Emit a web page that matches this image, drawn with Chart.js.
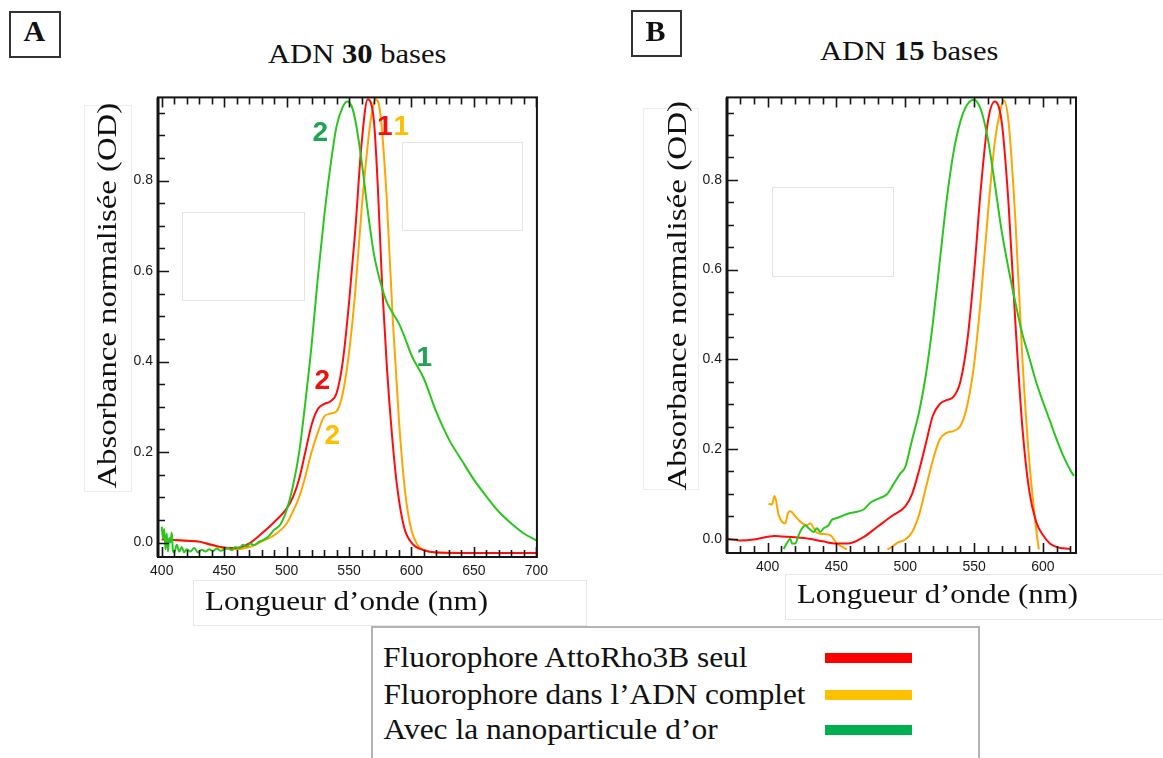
<!DOCTYPE html>
<html>
<head>
<meta charset="utf-8">
<script src="https://cdn.jsdelivr.net/npm/chart.js@4.4.1/dist/chart.umd.min.js"></script>
<style>
  html, body { margin: 0; padding: 0; background: #fff; }
  body { position: relative; width: 1163px; height: 758px; overflow: hidden; }
  canvas { position: absolute; }
  .txt { position: absolute; white-space: nowrap; transform-origin: 50% 50%; }
  .box { position: absolute; box-sizing: border-box; }
</style>
</head>
<body>
<canvas id="chart-a" width="454" height="503" style="left:100px;top:84px;width:454px;height:503px"></canvas>
<canvas id="chart-b" width="417" height="499" style="left:669px;top:84px;width:417px;height:499px"></canvas>

<script>
// Panel A — ADN 30 bases
const aRedX = [400, 420, 430, 440, 450, 460, 470, 480, 490, 500, 505, 510, 515, 520, 525, 530, 535, 540, 545, 550, 555, 560, 565, 570, 573, 576.5, 580.5, 584.5, 588.5, 594, 600.5, 610, 620, 650, 700];
const aRedY = [0.007, 0.004, 0.002, -0.005, -0.011, -0.012, -0.002, 0.02, 0.045, 0.075, 0.1, 0.14, 0.2, 0.26, 0.295, 0.306, 0.312, 0.33, 0.4, 0.53, 0.69, 0.88, 0.98, 0.93, 0.79, 0.57, 0.38, 0.235, 0.124, 0.035, -0.002, -0.017, -0.022, -0.023, -0.023];

const aOrangeX = [400, 420, 430, 440, 450, 460, 470, 480, 490, 500, 505, 510, 515, 520, 525, 530, 535, 540, 545, 550, 555, 560, 565, 568, 571.3, 575, 580, 585, 590, 595, 600, 605, 610, 620, 650, 700];
const aOrangeY = [0.007, 0.004, 0.002, -0.006, -0.013, -0.015, -0.01, 0.002, 0.016, 0.042, 0.068, 0.1, 0.146, 0.2, 0.243, 0.278, 0.285, 0.29, 0.33, 0.42, 0.555, 0.733, 0.88, 0.945, 0.98, 0.95, 0.77, 0.495, 0.27, 0.11, 0.027, -0.006, -0.017, -0.022, -0.023, -0.023];

const aGreenX = [400, 401, 402, 403, 404, 405, 406, 407, 408, 409, 410, 412, 414, 416, 418, 420, 423, 426, 429, 432, 435, 438, 441, 444, 447, 450, 453, 456, 459, 462, 465, 468, 471, 474, 477, 480, 485, 490, 495, 500, 505, 510, 515, 520, 525, 530, 535, 540, 545, 548.5, 552, 555, 560, 565, 570, 575, 580, 585, 590, 595, 600, 610, 620, 630, 640, 650, 660, 670, 680, 690, 700];
const aGreenY = [0.035, 0.01, 0.03, -0.015, 0.02, -0.02, 0.01, 0.0, 0.022, -0.018, -0.022, -0.005, -0.02, -0.01, -0.022, -0.015, -0.02, -0.012, -0.022, -0.016, -0.02, -0.015, -0.019, -0.013, -0.018, -0.016, -0.012, -0.017, -0.01, -0.013, -0.005, -0.009, -0.002, -0.006, 0.0, 0.004, 0.012, 0.028, 0.04, 0.072, 0.124, 0.198, 0.31, 0.436, 0.585, 0.718, 0.83, 0.92, 0.963, 0.975, 0.965, 0.934, 0.845, 0.733, 0.637, 0.577, 0.533, 0.507, 0.484, 0.451, 0.414, 0.362, 0.288, 0.228, 0.183, 0.139, 0.102, 0.068, 0.042, 0.02, 0.005];

// Panel B — ADN 15 bases
const bRedX = [370.5, 380, 390, 400, 405, 410, 420, 430, 440, 450, 460, 470, 480, 490, 500, 505, 510, 515, 520, 525, 530, 535, 540, 545, 550, 555, 560, 565, 570, 575, 580, 585, 590, 595, 600, 605, 610, 620];
const bRedY = [0.0, -0.004, -0.002, 0.004, 0.006, 0.005, 0.003, 0.0, -0.006, -0.011, -0.01, 0.004, 0.027, 0.05, 0.072, 0.1, 0.152, 0.213, 0.274, 0.3, 0.309, 0.316, 0.35, 0.44, 0.594, 0.785, 0.93, 0.975, 0.93, 0.747, 0.48, 0.25, 0.107, 0.038, 0.008, -0.011, -0.019, -0.023];

const bOrangeX = [400.7, 403.1, 405.1, 408, 410.4, 412.8, 414.8, 416.5, 420.1, 423.7, 428.6, 431, 435.1, 438.2, 445.5, 450.4, 457.6, 472, 487, 490, 495, 500, 505, 510, 515, 520, 525, 530, 535, 540, 545, 550, 555, 560, 565, 568, 571.5, 575, 580, 585, 590, 595, 597];
const bOrangeY = [0.078, 0.076, 0.095, 0.053, 0.038, 0.034, 0.057, 0.061, 0.05, 0.038, 0.03, 0.034, 0.015, 0.011, 0.008, -0.011, -0.024, null, -0.024, -0.019, -0.008, -0.002, 0.015, 0.053, 0.114, 0.175, 0.221, 0.236, 0.24, 0.251, 0.297, 0.389, 0.54, 0.724, 0.884, 0.94, 0.977, 0.93, 0.709, 0.404, 0.175, 0.023, -0.024];

const bGreenX = [411.6, 414, 416.5, 417.7, 420.1, 422.5, 425, 427.4, 429.8, 433.4, 435.8, 438.2, 440.7, 444.3, 446.7, 450.4, 455.2, 460, 465, 469.7, 474.6, 481.8, 486.7, 491.5, 496.3, 500, 505, 510, 515, 520, 525, 530, 535, 540, 545, 550, 555, 560, 565, 570, 575, 580, 585, 590, 595, 600, 605, 610, 615, 620, 622.5];
const bGreenY = [-0.023, -0.01, 0.0, -0.011, -0.011, 0.008, 0.023, 0.03, 0.023, 0.015, 0.023, 0.015, 0.023, 0.03, 0.042, 0.046, 0.052, 0.057, 0.06, 0.065, 0.08, 0.091, 0.099, 0.122, 0.145, 0.16, 0.221, 0.282, 0.366, 0.48, 0.617, 0.754, 0.861, 0.93, 0.968, 0.979, 0.956, 0.891, 0.792, 0.686, 0.602, 0.526, 0.457, 0.404, 0.35, 0.305, 0.263, 0.221, 0.183, 0.152, 0.14];

// axes
const aXRange = [397, 700.5];
const bXRange = [370.5, 624];
const yRange = [-0.032, 0.984];
const aXTicks = [400, 450, 500, 550, 600, 650, 700];
const bXTicks = [400, 450, 500, 550, 600];
const yTicks = [0, 0.2, 0.4, 0.6, 0.8];

const legendLabels = ['Fluorophore AttoRho3B seul', 'Fluorophore dans l\u2019ADN complet', 'Avec la nanoparticule d\u2019or'];

const RED = '#ff0d0d', ORANGE = '#ffa500', GREEN = '#2ac61e';
const SERIF = '"Liberation Serif", "Times New Roman", serif';
const SANS = '"Liberation Sans", Arial, sans-serif';

function pts(xs, ys) { return xs.map((x, i) => ({ x, y: ys[i] })); }

// inward ticks + frame, drawn from the chart's own scales
const framePlugin = {
    id: 'frame',
    afterDatasetsDraw(chart) {
        const { ctx, chartArea: a, scales: { x, y } } = chart;
        ctx.save();
        ctx.strokeStyle = '#141414';
        ctx.lineWidth = 1.6;
        ctx.beginPath();
        for (let v = Math.ceil(x.min / 10) * 10; v <= x.max; v += 10) {
            const px = Math.round(x.getPixelForValue(v)) + 0.5;
            const len = v % 50 === 0 ? 10 : 7;
            ctx.moveTo(px, a.bottom); ctx.lineTo(px, a.bottom - len);
            ctx.moveTo(px, a.top); ctx.lineTo(px, a.top + len);
        }
        for (let k = Math.ceil(y.min / 0.05); k * 0.05 <= y.max; k++) {
            const py = Math.round(y.getPixelForValue(k * 0.05)) + 0.5;
            const len = k % 4 === 0 ? 11 : 7;
            ctx.moveTo(a.left, py); ctx.lineTo(a.left + len, py);
        }
        ctx.stroke();
        ctx.lineWidth = 2;
        ctx.strokeRect(a.left, a.top, a.width, a.height);
        ctx.lineWidth = 3;
        ctx.beginPath();
        ctx.moveTo(a.left, a.top); ctx.lineTo(a.left, a.bottom);
        ctx.stroke();
        ctx.restore();
    }
};

function makeChart(id, xRange, xTicks, sets) {
    return new Chart(document.getElementById(id), {
        type: 'line',
        data: {
            datasets: sets.map(([xs, ys, color]) => ({
                data: pts(xs, ys),
                borderColor: color,
                borderWidth: 2,
                pointRadius: 0,
                tension: 0.35,
                cubicInterpolationMode: 'monotone',
                spanGaps: false,
                fill: false,
            }))
        },
        options: {
            responsive: false,
            animation: false,
            layout: { padding: { top: 8, right: 10, left: 0, bottom: 0 } },
            plugins: { legend: { display: false }, tooltip: { enabled: false } },
            scales: {
                x: {
                    type: 'linear', min: xRange[0], max: xRange[1],
                    grid: { display: false, drawTicks: false },
                    border: { display: false },
                    afterBuildTicks: (s) => { s.ticks = xTicks.map((v) => ({ value: v })); },
                    afterFit: (s) => { s.height = 30; },
                    ticks: { padding: 6, maxRotation: 0, autoSkip: false, color: '#1a1a1a',
                        font: { family: SANS, size: 14 }, callback: (v) => String(v) }
                },
                y: {
                    type: 'linear', min: yRange[0], max: yRange[1],
                    grid: { display: false, drawTicks: false },
                    border: { display: false },
                    afterBuildTicks: (s) => { s.ticks = yTicks.map((v) => ({ value: v })); },
                    afterFit: (s) => { s.width = 58; },
                    ticks: { padding: 5, color: '#1a1a1a',
                        font: { family: SANS, size: 14 }, callback: (v) => Number(v).toFixed(1) }
                }
            }
        },
        plugins: [framePlugin]
    });
}

makeChart('chart-a', aXRange, aXTicks, [
    [aGreenX, aGreenY, GREEN],
    [aRedX, aRedY, RED],
    [aOrangeX, aOrangeY, ORANGE],
]);
makeChart('chart-b', bXRange, bXTicks, [
    [bGreenX, bGreenY, GREEN],
    [bRedX, bRedY, RED],
    [bOrangeX, bOrangeY, ORANGE],
]);

// faint blank patches of the original figure
function box(l, t, r, b, css) {
    const d = document.createElement('div');
    d.className = 'box';
    d.style.cssText += `left:${l}px;top:${t}px;width:${r - l}px;height:${b - t}px;${css}`;
    document.body.appendChild(d);
}
const faint = 'background:#fff;border:1px solid #e4e4e4;';
box(84, 105, 132, 492, 'border:1px solid #eeeeee;');
box(643, 108, 699, 490, 'border:1px solid #eeeeee;');
box(193, 580, 587, 626, 'border:1px solid #e6e6e6;');
box(785, 574, 1170, 620, 'border:1px solid #e6e6e6;');
box(182, 212, 305, 301, faint);
box(402, 142, 523, 231, faint);
box(772, 187, 894, 277, faint);

// text placed by cap centre, stretched to the measured width
function place(html, o) {
    const el = document.createElement('div');
    el.className = 'txt';
    el.innerHTML = html;
    el.style.font = `${o.bold ? 'bold ' : ''}${o.size}px ${o.family || SERIF}`;
    el.style.lineHeight = o.size + 'px';
    el.style.color = o.color || '#111';
    document.body.appendChild(el);
    const w = el.offsetWidth;
    const sx = o.width ? o.width / w : 1;
    const cx = o.left != null ? o.left + o.width / 2 : o.cx;
    el.style.left = (cx - w / 2) + 'px';
    el.style.top = (o.cy - o.size / 2) + 'px';
    el.style.transform = `rotate(${o.rot || 0}deg) scaleX(${sx})`;
    return el;
}

// panel letters
box(9, 11, 61, 58, 'border:2px solid #333;');
box(631, 10, 682, 57, 'border:2px solid #333;');
place('A', { cx: 34.5, cy: 31, size: 30, bold: true });
place('B', { cx: 655.5, cy: 31, size: 30, bold: true });

// titles
place('ADN <b>30</b> bases', { cx: 356.5, cy: 54, size: 27.5, width: 178 });
place('ADN <b>15</b> bases', { cx: 909, cy: 51, size: 27.5, width: 178 });

// axis titles
place('Longueur d\u2019onde (nm)', { cx: 346.5, cy: 601, size: 28, width: 283 });
place('Longueur d\u2019onde (nm)', { cx: 937.5, cy: 594, size: 28, width: 281 });
place('Absorbance normalis\u00e9e (OD)', { cx: 107, cy: 296, size: 27.5, width: 386, rot: -90 });
place('Absorbance normalis\u00e9e (OD)', { cx: 677, cy: 296, size: 27.5, width: 390, rot: -90 });

// curve markers in panel A
const mark = { size: 28, bold: true, family: SANS };
place('2', { ...mark, cx: 320.5, cy: 132, color: '#1ea453' });
place('1', { ...mark, cx: 385, cy: 126, color: '#ee1111' });
place('1', { ...mark, cx: 401.5, cy: 126, color: '#ffbf00' });
place('1', { ...mark, cx: 424.5, cy: 357, color: '#1ea453' });
place('2', { ...mark, cx: 322.5, cy: 380, color: '#ee1111' });
place('2', { ...mark, cx: 332.5, cy: 435, color: '#ffbf00' });

// legend
box(371, 626, 980, 770, 'border:2px solid #b4b4b4;');
const legendColors = ['#ff0000', '#ffc000', '#00b050'];
const legendWidths = [365, 422, 334];
const legendRows = [658, 695, 730];
legendLabels.forEach((label, i) => {
    place(label, { left: 383, width: legendWidths[i], cy: legendRows[i], size: 29.5 });
    box(825, legendRows[i] - 5, 912, legendRows[i] + 5, `background:${legendColors[i]};`);
});
</script>
</body>
</html>
